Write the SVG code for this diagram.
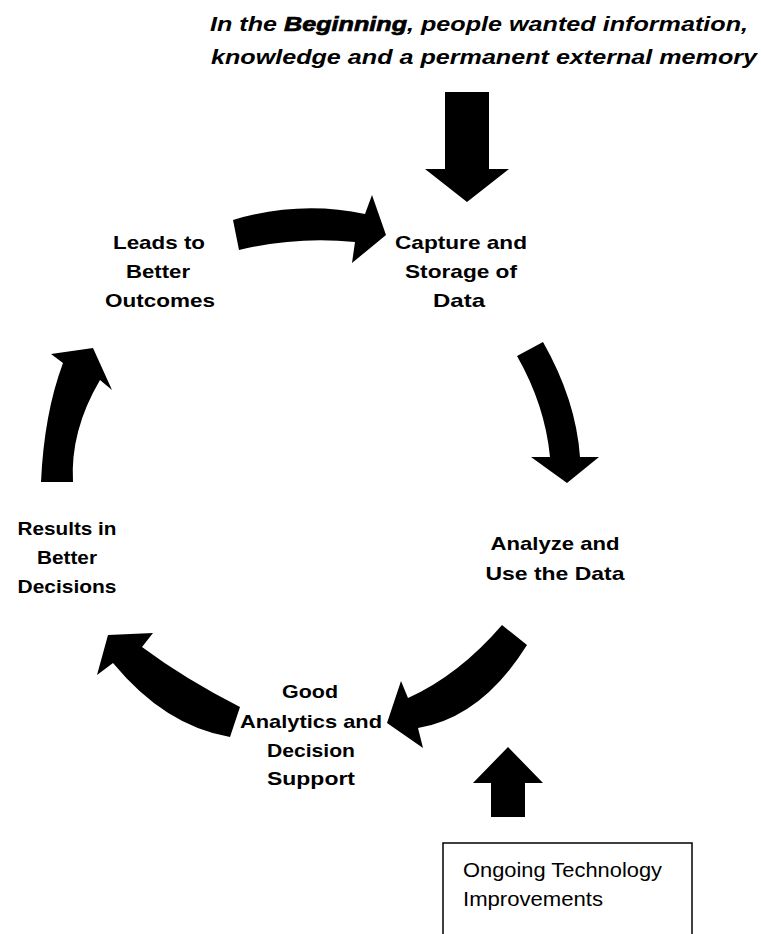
<svg xmlns="http://www.w3.org/2000/svg" width="761" height="934" viewBox="0 0 761 934">
<style>
.t{font-family:"Liberation Sans",Arial,sans-serif;font-weight:bold;font-size:19px;fill:#000;text-anchor:middle}
.title{font-family:"Liberation Sans",Arial,sans-serif;font-weight:bold;font-style:italic;font-size:21px;fill:#000}
.bx{font-family:"Liberation Sans",Arial,sans-serif;font-size:21px;fill:#000}
.arr{fill:#000;stroke:none}
</style>
<rect width="761" height="934" fill="#fff"/>
<g id="title">
<text class="title" x="210" y="31" textLength="538" lengthAdjust="spacingAndGlyphs">In the <tspan stroke="#000" stroke-width="0.7">Beginning</tspan>, people wanted information,</text>
<text class="title" x="211" y="64" textLength="546" lengthAdjust="spacingAndGlyphs">knowledge and a permanent external memory</text>
</g>
<g id="connectors">
<path class="arr" d="M445,92 H489 V169 H509 L467,202 L425,169 H445 Z"/>
<path class="arr" d="M233,220 Q300,200 365,214 L372,195 L386,235 L352,263 L355,242 Q297,236 239,250 Z"/>
<path class="arr" d="M517,356 L543,342 Q576,400 580,457 L599,457 L567,483 L531,457 L550,457 Q545,405 517,356 Z"/>
<path class="arr" d="M502,625 L527,645 Q482,717 418,728 L423,748 L387,723 L401,681 L408,698 Q459,675 502,625 Z"/>
<path class="arr" d="M240,707 L230,737 Q165,726 113,663 L97,675 L108,635 L153,633 L142,647 Q185,679 240,707 Z"/>
<path class="arr" d="M41,482 Q44,414 63,363 L51,354 L93,348 L112,390 L100,380 Q70,431 73,482 Z"/>
<path class="arr" d="M491,817 V783 H473 L508,747 L543,783 H525 V817 Z"/>
</g>
<g id="capture">
<text class="t" x="461" y="249" textLength="132" lengthAdjust="spacingAndGlyphs">Capture and</text>
<text class="t" x="461" y="278" textLength="112" lengthAdjust="spacingAndGlyphs">Storage of</text>
<text class="t" x="459" y="307" textLength="52" lengthAdjust="spacingAndGlyphs">Data</text>
</g>
<g id="analyze">
<text class="t" x="555" y="550" textLength="129" lengthAdjust="spacingAndGlyphs">Analyze and</text>
<text class="t" x="555" y="580" textLength="139" lengthAdjust="spacingAndGlyphs">Use the Data</text>
</g>
<g id="analytics">
<text class="t" x="310" y="698" textLength="56" lengthAdjust="spacingAndGlyphs">Good</text>
<text class="t" x="311" y="728" textLength="142" lengthAdjust="spacingAndGlyphs">Analytics and</text>
<text class="t" x="311" y="757" textLength="88" lengthAdjust="spacingAndGlyphs">Decision</text>
<text class="t" x="311" y="785" textLength="88" lengthAdjust="spacingAndGlyphs">Support</text>
</g>
<g id="results">
<text class="t" x="67" y="535" textLength="99" lengthAdjust="spacingAndGlyphs">Results in</text>
<text class="t" x="67" y="564" textLength="60" lengthAdjust="spacingAndGlyphs">Better</text>
<text class="t" x="67" y="593" textLength="99" lengthAdjust="spacingAndGlyphs">Decisions</text>
</g>
<g id="leads">
<text class="t" x="159" y="249" textLength="92" lengthAdjust="spacingAndGlyphs">Leads to</text>
<text class="t" x="158" y="278" textLength="64" lengthAdjust="spacingAndGlyphs">Better</text>
<text class="t" x="160" y="307" textLength="110" lengthAdjust="spacingAndGlyphs">Outcomes</text>
</g>
<g id="technology">
<rect x="443" y="843" width="249" height="100" fill="#fff" stroke="#000" stroke-width="1.5"/>
<text class="bx" x="463" y="877" textLength="199" lengthAdjust="spacingAndGlyphs">Ongoing Technology</text>
<text class="bx" x="463" y="906" textLength="140" lengthAdjust="spacingAndGlyphs">Improvements</text>
</g>
</svg>
